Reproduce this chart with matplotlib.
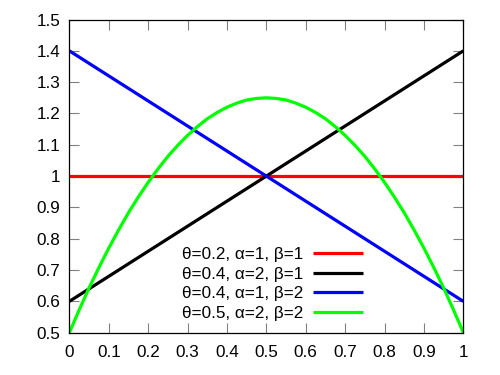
import matplotlib
matplotlib.use("Agg")
import matplotlib.pyplot as plt

plt.rcParams['font.family'] = ['Liberation Sans', 'DejaVu Sans']

x_lin = [0.0, 1.0]
red_y = [1.0, 1.0]
black_y = [0.6, 1.4]
blue_y = [1.4, 0.6]

x_green = [0.0, 0.025, 0.05, 0.075, 0.1, 0.125, 0.15, 0.175, 0.2, 0.225, 0.25,
           0.275, 0.3, 0.325, 0.35, 0.375, 0.4, 0.425, 0.45, 0.475, 0.5,
           0.525, 0.55, 0.575, 0.6, 0.625, 0.65, 0.675, 0.7, 0.725, 0.75,
           0.775, 0.8, 0.825, 0.85, 0.875, 0.9, 0.925, 0.95, 0.975, 1.0]
green_y = [0.5, 0.573, 0.643, 0.708, 0.77, 0.828, 0.883, 0.933, 0.98, 1.023, 1.063,
           1.098, 1.13, 1.158, 1.183, 1.203, 1.22, 1.233, 1.243, 1.248, 1.25,
           1.248, 1.243, 1.233, 1.22, 1.203, 1.183, 1.158, 1.13, 1.098, 1.063,
           1.023, 0.98, 0.933, 0.883, 0.828, 0.77, 0.708, 0.643, 0.573, 0.5]

labels = ["θ=0.2, α=1, β=1", "θ=0.4, α=2, β=1", "θ=0.4, α=1, β=2", "θ=0.5, α=2, β=2"]
colors = ["#ff0000", "#000000", "#0000ff", "#00ff00"]

xticks = [0, 0.1, 0.2, 0.3, 0.4, 0.5, 0.6, 0.7, 0.8, 0.9, 1]
xticklabels = ["0", "0.1", "0.2", "0.3", "0.4", "0.5", "0.6", "0.7", "0.8", "0.9", "1"]
yticks = [0.5, 0.6, 0.7, 0.8, 0.9, 1.0, 1.1, 1.2, 1.3, 1.4, 1.5]
yticklabels = ["0.5", "0.6", "0.7", "0.8", "0.9", "1", "1.1", "1.2", "1.3", "1.4", "1.5"]

fig = plt.figure(figsize=(5, 3.75), dpi=100)
ax = fig.add_axes([0.1387, 0.1128, 0.788, 0.8352])

lw = 2.3
ax.plot(x_lin, red_y, color=colors[0], lw=lw, label=labels[0], solid_capstyle='butt')
ax.plot(x_lin, black_y, color=colors[1], lw=lw, label=labels[1], solid_capstyle='butt')
ax.plot(x_lin, blue_y, color=colors[2], lw=lw, label=labels[2], solid_capstyle='butt')
ax.plot(x_green, green_y, color=colors[3], lw=lw, label=labels[3], solid_capstyle='butt',
        solid_joinstyle='round')

ax.set_xlim(0, 1)
ax.set_ylim(0.5, 1.5)
ax.set_xticks(xticks)
ax.set_xticklabels(xticklabels)
ax.set_yticks(yticks)
ax.set_yticklabels(yticklabels)
ax.tick_params(direction='in', length=7.5, width=0.8, color='#808080',
               top=True, right=True, labelsize=12.3, labelcolor='black')
ax.tick_params(axis='x', pad=8.5)
ax.tick_params(axis='y', pad=6.5)
for s in ax.spines.values():
    s.set_linewidth(0.9)
    s.set_color('black')

leg = ax.legend(loc='lower right', bbox_to_anchor=(0.745, 0.037), frameon=False,
                markerfirst=False, fontsize=12.3, handlelength=2.9,
                handletextpad=0.6, labelspacing=0.28, borderpad=0, borderaxespad=0)

fig.savefig("out.png", dpi=100)
